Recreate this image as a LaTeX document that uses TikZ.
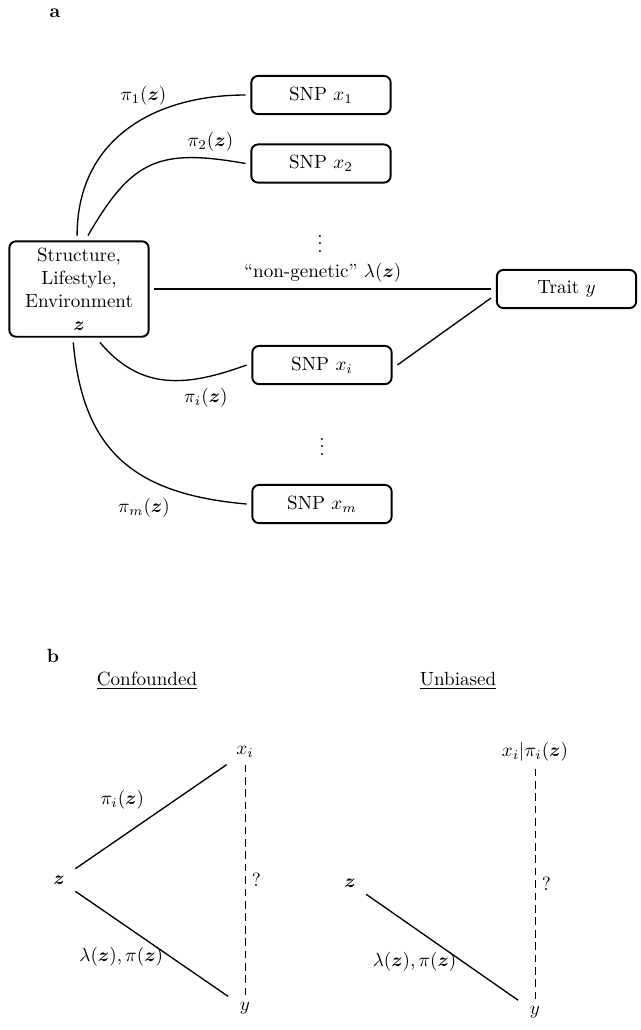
\documentclass[tikz,border=0pt]{standalone}
\usepackage{amssymb}
\usepackage{amsmath}

\newcommand{\bz}{\boldsymbol{z}}

\tikzset{
  snpbox/.style={draw, line width=1pt, rounded corners=3.5pt, minimum width=73pt, minimum height=20pt, outer sep=3pt},
  link/.style={line width=0.7pt},
  varnode/.style={inner xsep=6pt, inner ysep=3.5pt},
  qlink/.style={line width=0.5pt, dash pattern=on 4pt off 2.5pt}
}

\begin{document}
\begin{tikzpicture}[x=0.524pt,y=0.524pt]
\useasboundingbox (0,0) rectangle (641,-1030);
\node (lbla) at (55,-13) {\textbf{a}};
\node[snpbox, align=center, minimum height=50pt, inner sep=2pt] (env) at (79,-289) {Structure,\\ Lifestyle,\\ Environment\\ $\bz$};
\node[snpbox] (snp1) at (321,-95) {SNP $x_1$};
\node[snpbox] (snp2) at (321,-163.5) {SNP $x_2$};
\node[snpbox] (snpi) at (322,-365) {SNP $x_i$};
\node[snpbox] (snpm) at (322,-504) {SNP $x_m$};
\node[snpbox] (trait) at (566.5,-289) {Trait $y$};
\node (dots1) at (320,-238) {$\vdots$};
\node (dots2) at (322,-441) {$\vdots$};
\draw[link] ([xshift=-1pt]env.north) to[out=90,in=180,looseness=1.1] node[pos=0.59,above=3pt] {$\pi_1(\bz)$} (snp1.west);
\draw[link] ([xshift=4.7pt]env.north) to[out=60,in=170,looseness=1.3] node[pos=0.85,above] {$\pi_2(\bz)$} (snp2.west);
\draw[link] (env.east) -- node[above] {``non-genetic'' $\lambda(\bz)$} (trait.west);
\draw[link] (snpi.east) -- ([yshift=-4.7pt]trait.west);
\draw[link] ([xshift=11pt]env.south) to[out=-50,in=200,looseness=1.1] node[pos=0.76,below=2pt] {$\pi_i(\bz)$} (snpi.west);
\draw[link] ([xshift=-3pt]env.south) to[out=-85,in=175,looseness=1.2] node[pos=0.76,below left] {$\pi_m(\bz)$} (snpm.west);

\node (lblb) at (53,-656) {\textbf{b}};
\node (conf) at (147,-681) {\underline{Confounded}};
\node (unb) at (458,-681) {\underline{Unbiased}};
\node[varnode] (zL) at (59,-880) {$\bz$};
\node[varnode] (xL) at (245,-752) {$x_i$};
\node[varnode] (yL) at (245,-1008) {$y$};
\draw[link] (zL) -- node[above left] {$\pi_i(\bz)$} (xL);
\draw[link] (zL) -- node[pos=0.62,left] {$\lambda(\bz),\pi(\bz)$} (yL);
\draw[qlink] (xL) -- node[right] {?} (yL);
\node[varnode] (zR) at (350,-883) {$\bz$};
\node[varnode] (xR) at (535,-752) {$x_i|\pi_i(\bz)$};
\node[varnode] (yR) at (535,-1012) {$y$};
\draw[link] (zR) -- node[pos=0.64,left] {$\lambda(\bz),\pi(\bz)$} (yR);
\draw[qlink] (xR) -- node[right] {?} (yR);
\end{tikzpicture}
\end{document}
